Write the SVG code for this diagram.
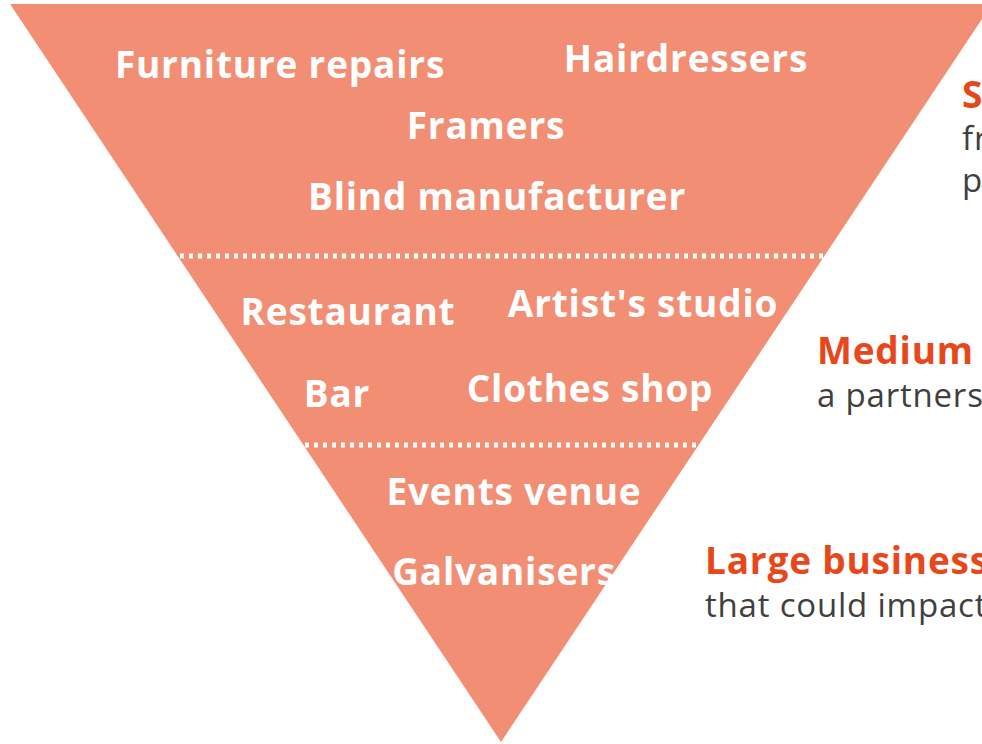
<svg xmlns="http://www.w3.org/2000/svg" width="982" height="744" viewBox="0 0 982 744">
<style>
.lbl{font-family:"Open Sans","Noto Sans",sans-serif;font-weight:bold;font-size:37px;letter-spacing:0.8px;fill:#FFFFFF;text-anchor:middle}
.hd{font-family:"Open Sans","Noto Sans",sans-serif;font-weight:bold;font-size:37px;letter-spacing:0.8px;fill:#E8471C}
.sub{font-family:"Open Sans","Noto Sans",sans-serif;font-size:33px;letter-spacing:0.8px;fill:#404040}
.div{stroke:#FFFFFF;stroke-width:5;stroke-dasharray:4 5;fill:none}
</style>
<rect width="982" height="744" fill="#FFFFFF"/>
<g id="pyramid">
<polygon points="10,4 992,4 501,742" fill="#F28E74"/>
</g>
<g id="connectors">
<line class="div" x1="180" y1="256" x2="830" y2="256"/>
<line class="div" x1="305" y1="445" x2="702" y2="445"/>
</g>
<g id="tier-small">
<text class="lbl" x="280" y="78">Furniture repairs</text>
<text class="lbl" x="686" y="72">Hairdressers</text>
<text class="lbl" x="486" y="139">Framers</text>
<text class="lbl" x="497" y="210">Blind manufacturer</text>
</g>
<g id="tier-medium">
<text class="lbl" x="348" y="325">Restaurant</text>
<text class="lbl" x="643" y="317">Artist's studio</text>
<text class="lbl" x="337" y="407">Bar</text>
<text class="lbl" x="590" y="402">Clothes shop</text>
</g>
<g id="tier-large">
<text class="lbl" x="514" y="505">Events venue</text>
<text class="lbl" x="504" y="585">Galvanisers</text>
</g>
<g id="label-small">
<text class="hd" x="962" y="108">S</text>
<text class="sub" x="962" y="150">fr</text>
<text class="sub" x="962" y="192">p</text>
</g>
<g id="label-medium">
<text class="hd" x="817" y="364">Medium</text>
<text class="sub" x="817" y="407">a partners</text>
</g>
<g id="label-large">
<text class="hd" x="705" y="574">Large business</text>
<text class="sub" x="705" y="617">that could impact</text>
</g>
</svg>
